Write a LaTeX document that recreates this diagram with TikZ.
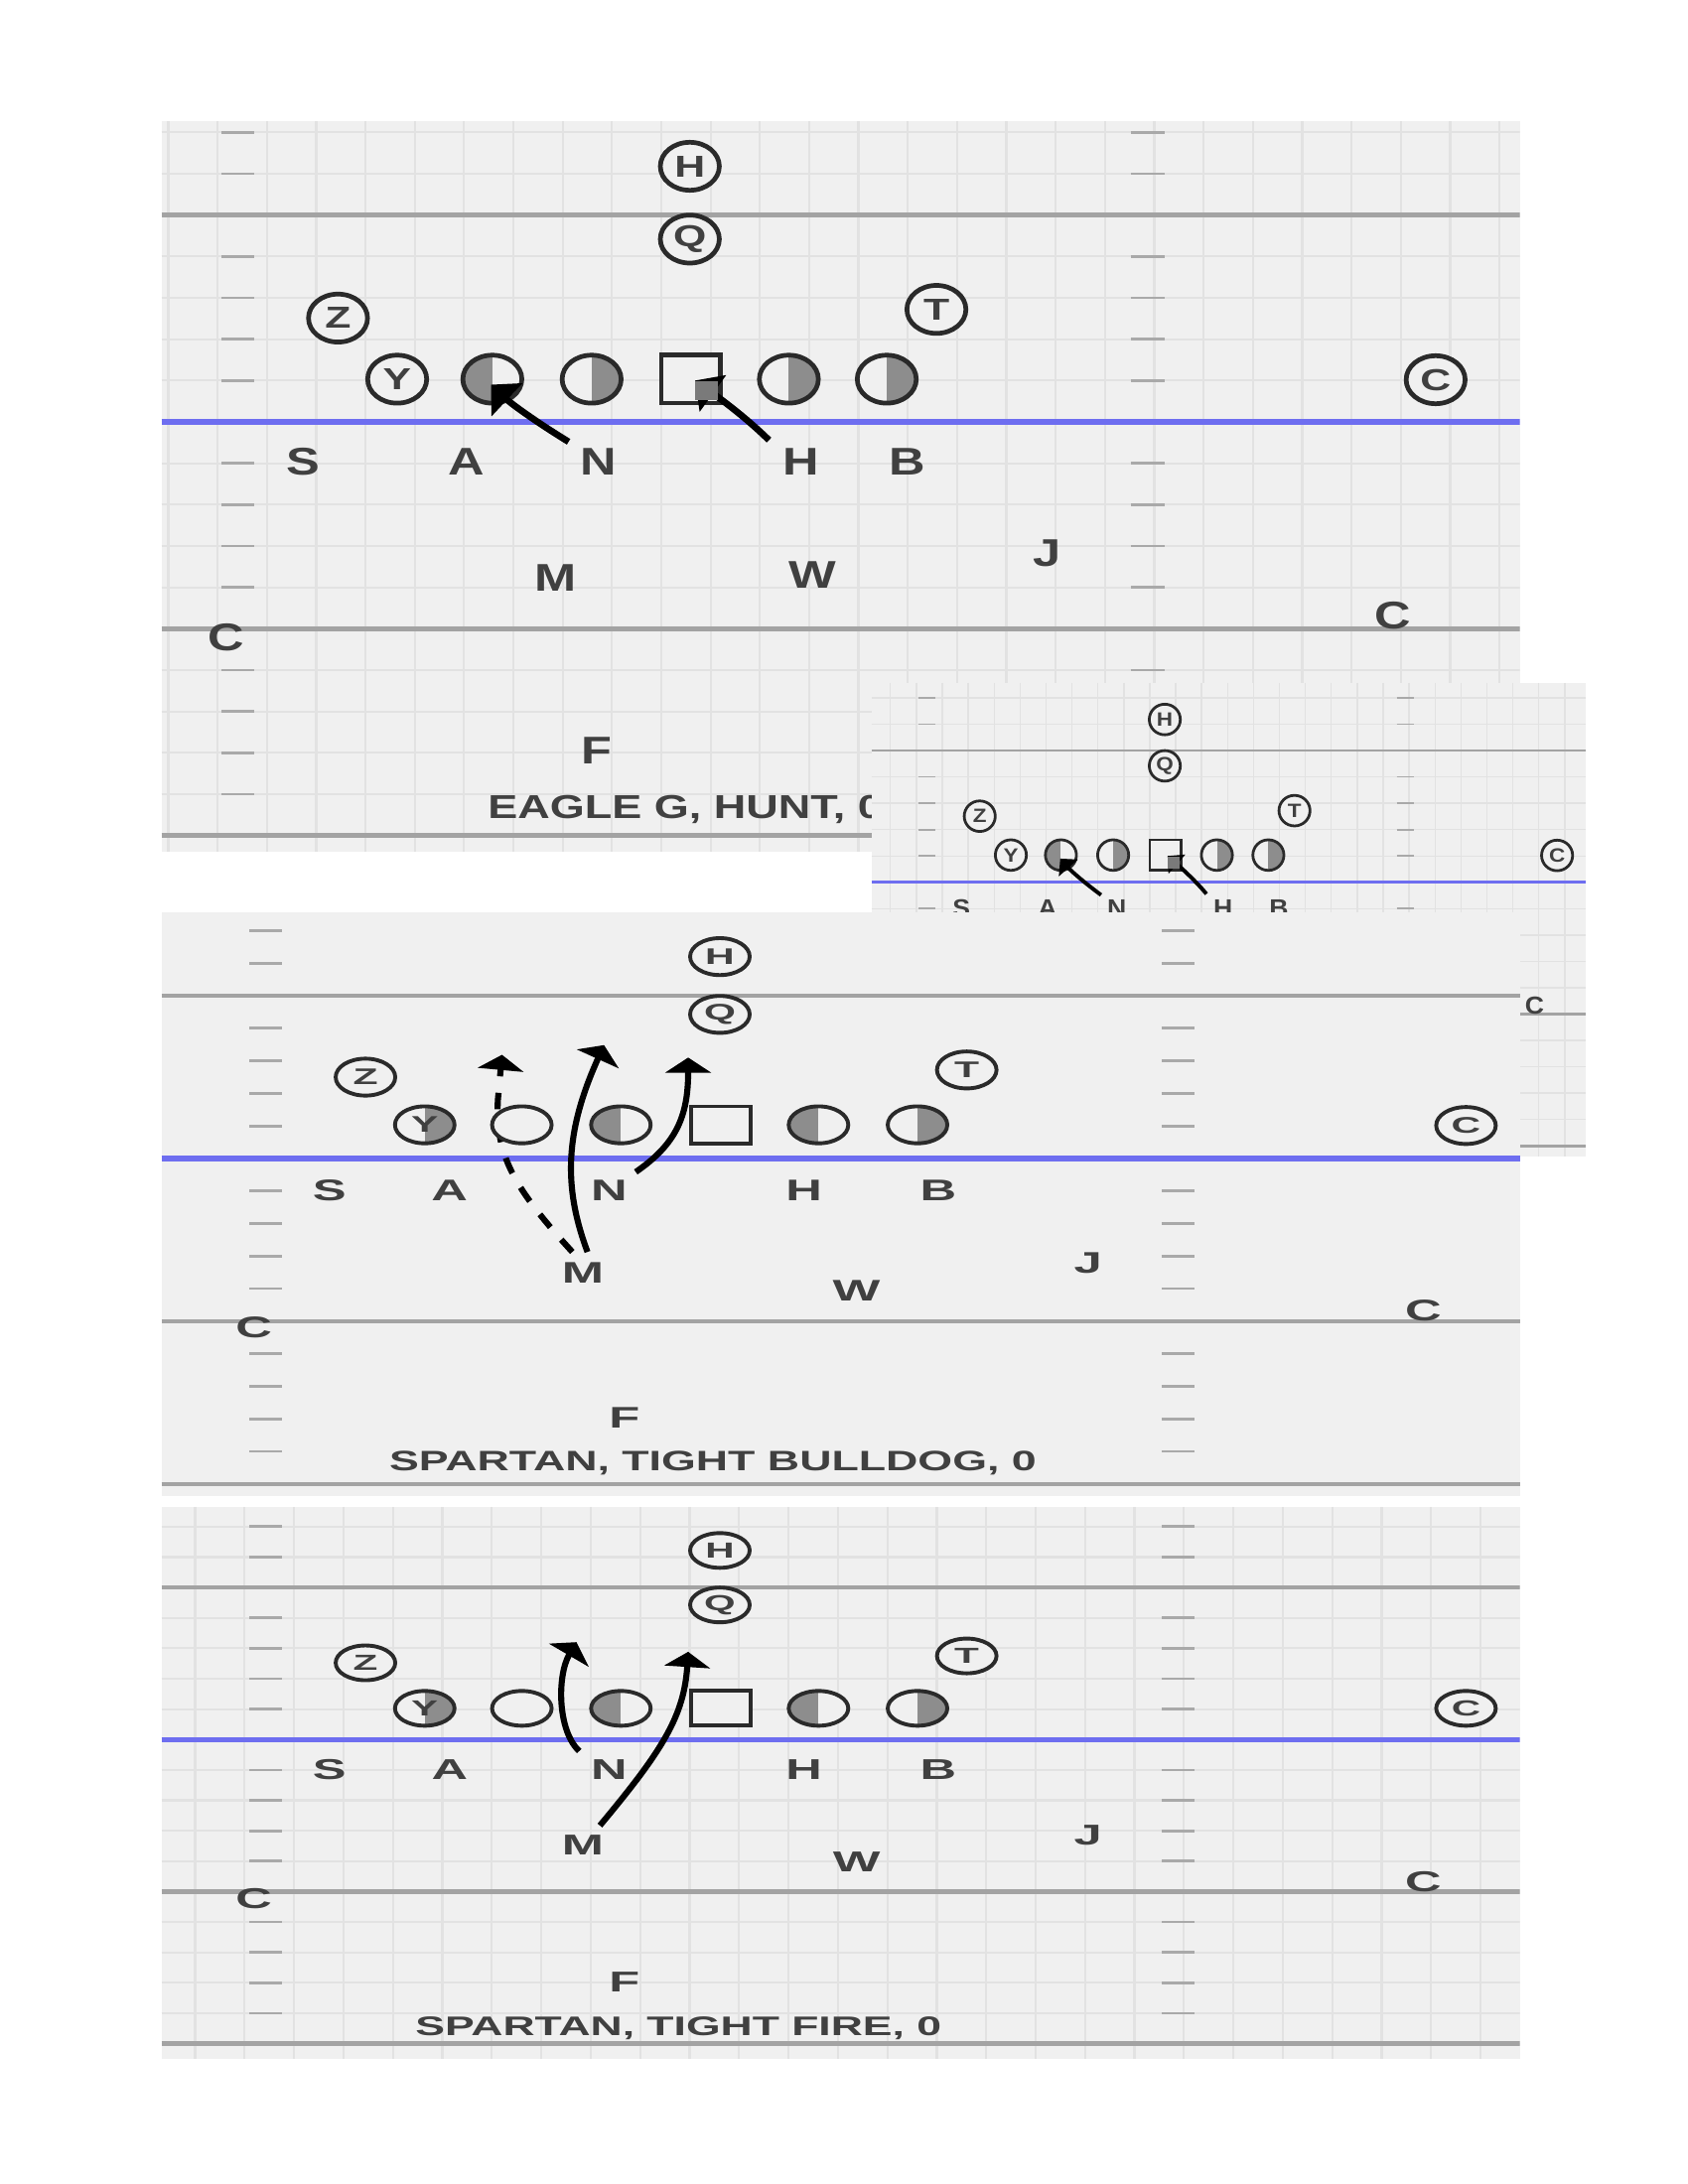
\documentclass[tikz,border=0pt]{standalone}
\usepackage{fontspec}
\setmainfont{Liberation Sans}
\usetikzlibrary{shapes.geometric,arrows.meta}
\definecolor{fieldbg}{HTML}{F0F0F0}
\definecolor{gridc}{HTML}{E2E2E2}
\definecolor{linegray}{HTML}{A3A3A3}
\definecolor{hashc}{HTML}{A9A9A9}
\definecolor{losblue}{HTML}{6E6EF0}
\definecolor{ink}{HTML}{2A2A2A}
\definecolor{halfc}{HTML}{8D8D8D}
\definecolor{txtc}{HTML}{404040}
\definecolor{gsqc}{HTML}{7A7A7A}
\newcommand\Aone[1]{\scalebox{1.4}[1]{#1}}
\newcommand\Bone[1]{\scalebox{1.3}[1]{#1}}
\newcommand\Atwo[1]{\scalebox{1.8}[1]{#1}}
\newcommand\Btwo[1]{\scalebox{1.69}[1]{#1}}
\newcommand\Athree[1]{\scalebox{1.85}[1]{#1}}
\newcommand\Bthree[1]{\scalebox{1.75}[1]{#1}}
\tikzset{
  gridln/.style={draw=gridc, line width=0.8pt},
  hashln/.style={draw=hashc, line width=1pt},
  fieldln/.style={draw=linegray, line width=1.6pt},
  losln/.style={draw=losblue, line width=1.9pt},
  pl/.style={ellipse, draw=ink, fill=fieldbg, inner sep=0pt, text=txtc},
  sq/.style={rectangle, draw=ink, fill=fieldbg, inner sep=0pt},
  lefthalf/.style={path picture={\fill[halfc] (path picture bounding box.south west) rectangle (path picture bounding box.north);}},
  righthalf/.style={path picture={\fill[halfc] (path picture bounding box.north) rectangle (path picture bounding box.south east);}},
  p1pl/.style={pl, minimum width=21.4pt, minimum height=17.4pt, line width=1.7pt, font=\fontsize{11}{11}\selectfont\bfseries},
  p1sq/.style={sq, minimum width=21.4pt, minimum height=17.4pt, line width=1.7pt},
  p1gsq/.style={rectangle, fill=gsqc, inner sep=0pt, minimum width=8.3pt, minimum height=7pt},
  p1let/.style={inner sep=0pt, text=txtc, font=\fontsize{14}{14}\selectfont\bfseries},
  p1cap/.style={inner sep=0pt, anchor=base west, text=txtc, font=\fontsize{12}{12}\selectfont\bfseries},
  p1arr/.style={draw=black, line width=2.4pt, -{Triangle[length=8pt,width=16pt]}},
  p2pl/.style={pl, minimum width=21.6pt, minimum height=13.4pt, line width=1.4pt, font=\fontsize{8.2}{8.2}\selectfont\bfseries},
  p2sq/.style={sq, minimum width=21.6pt, minimum height=13.4pt, line width=1.4pt},
  p2let/.style={inner sep=0pt, text=txtc, font=\fontsize{10.8}{10.8}\selectfont\bfseries},
  p3pl/.style={pl, minimum width=21.6pt, minimum height=12.6pt, line width=1.4pt, font=\fontsize{7.9}{7.9}\selectfont\bfseries},
  p3sq/.style={sq, minimum width=21.6pt, minimum height=12.6pt, line width=1.4pt},
  p3let/.style={inner sep=0pt, text=txtc, font=\fontsize{10.4}{10.4}\selectfont\bfseries},
  capn/.style={inner sep=0pt, anchor=base west, text=txtc, font=\bfseries},
  p2arr/.style={draw=black, line width=2.2pt, -{Triangle[length=5.5pt,width=16.5pt]}},
  p2dash/.style={p2arr, dash pattern=on 6pt off 6pt},
}
\newcommand\PanelOne[5]{% #1 prefix, #2 left, #3 top, #4 right, #5 bottom
  \fill[fieldbg] (#2,#3) rectangle (#4,#5);
  \begin{scope}
    \clip (#2,#3) rectangle (#4,#5);
    \foreach \k in {0,...,27}{\draw[gridln] ({122+35.75*\k},#3) -- ({122+35.75*\k},#5);}
    \foreach \k in {0,...,17}{%
      \draw[gridln] (#2,{96+30*\k}) -- (#4,{96+30*\k});
      \draw[hashln] (160.8,{96+30*\k}) -- (184.4,{96+30*\k});
      \draw[hashln] (819.8,{96+30*\k}) -- (844.3,{96+30*\k});}
    \draw[fieldln] (#2,156) -- (#4,156);
    \draw[fieldln] (#2,456) -- (#4,456);
    \draw[fieldln] (#2,606) -- (#4,606);
    \draw[losln] (#2,306) -- (#4,306);
    \node[p1pl] (#1oH) at (500.2,120.6) {\Aone{H}};
    \node[p1pl] (#1oQ) at (500.2,173.4) {\Aone{Q}};
    \node[p1pl] (#1oZ) at (245.1,230.7) {\Aone{Z}};
    \node[p1pl] (#1oT) at (679,224.4) {\Aone{T}};
    \node[p1pl] (#1oY) at (288,275) {\Aone{Y}};
    \node[p1pl,lefthalf] (#1oLa) at (357,275) {};
    \node[p1pl,righthalf] (#1oLb) at (429,275) {};
    \node[p1sq] (#1oSQ) at (501,275) {};
    \node[p1pl,righthalf] (#1oLc) at (572,275) {};
    \node[p1pl,righthalf] (#1oLd) at (643,275) {};
    \node[p1pl] (#1oC) at (1041,275.4) {\Aone{C}};
    \node[p1let] (#1dS) at (219.7,335.2) {\Bone{S}};
    \node[p1let] (#1dA) at (338.5,335.2) {\Bone{A}};
    \node[p1let] (#1dN) at (434,335.2) {\Bone{N}};
    \node[p1let] (#1dH) at (580.5,335.2) {\Bone{H}};
    \node[p1let] (#1dB) at (657.6,335.2) {\Bone{B}};
    \node[p1let] (#1dM) at (403.1,419.1) {\Bone{M}};
    \node[p1let] (#1dW) at (589.2,416.7) {\Bone{W}};
    \node[p1let] (#1dJ) at (759.2,401) {\Bone{J}};
    \node[p1let] (#1dCl) at (164,462.4) {\Bone{C}};
    \node[p1let] (#1dCr) at (1009.9,446.2) {\Bone{C}};
    \node[p1let] (#1dF) at (432.5,544.6) {\Bone{F}};
    \coordinate (#1aas) at (412.3,320.4);
    \coordinate (#1aae) at (356,279);
    \draw[p1arr] (#1aas) .. controls (392,308) and (372,294) .. (#1aae);
    \coordinate (#1abs) at (557.6,319.2);
    \coordinate (#1abe) at (504,276);
    \draw[p1arr] (#1abs) .. controls (540,302) and (522,289) .. (#1abe);
    \node[p1gsq] (#1oG) at (512.2,283.3) {};
    \node[p1cap] (#1cap) at (353.4,593.4) {\scalebox{1.35}[1]{EAGLE G, HUNT, 0}};
  \end{scope}}
\begin{document}
\begin{tikzpicture}[x=0.5pt,y=-0.5pt]
\useasboundingbox (0,0) rectangle (1224,1584);
\fill[white] (0,0) rectangle (1224,1584);
% ---------- panel 1 ----------
\PanelOne{a}{117}{88}{1102}{618}
% ---------- inset (reduced copy of panel 1) ----------
\begin{scope}[shift={(581.5,445)}, xscale=0.526, yscale=0.637, transform shape]
  \tikzset{gridln/.style={draw=gridc, line width=0.5pt},
    hashln/.style={draw=hashc, line width=0.6pt},
    fieldln/.style={draw=linegray, line width=1pt},
    losln/.style={draw=losblue, line width=1.2pt},
    p1pl/.append style={line width=1pt},
    p1sq/.append style={line width=1pt},
    p1arr/.style={draw=black, line width=1.4pt, -{Triangle[length=4.5pt,width=9pt]}}}
  \PanelOne{b}{96}{79}{1081}{618}
\end{scope}
% ---------- panel 2 ----------
\fill[fieldbg] (117,662) rectangle (1102,1085);
\foreach \k in {0,...,17}{%
  \draw[hashln] (180.8,{675+23.6*\k}) -- (204.5,{675+23.6*\k});
  \draw[hashln] (842.3,{675+23.6*\k}) -- (866.1,{675+23.6*\k});}
\draw[fieldln] (117,722.2) -- (1102,722.2);
\draw[fieldln] (117,958.2) -- (1102,958.2);
\draw[fieldln] (117,1076.4) -- (1102,1076.4);
\draw[losln] (117,840.2) -- (1102,840.2);
\coordinate (bas) at (415,908);
\coordinate (bae) at (364,765);
\draw[p2dash] (bas) .. controls (373,862) and (359,838) .. (361,798) -- (bae);
\node[p2pl] (boH) at (522,693.8) {\Atwo{H}};
\node[p2pl] (boQ) at (522,735.7) {\Atwo{Q}};
\node[p2pl] (boZ) at (265,781.2) {\Atwo{Z}};
\node[p2pl] (boT) at (701,776) {\Atwo{T}};
\node[p2pl,righthalf] (boY) at (308,815.8) {\Atwo{Y}};
\node[p2pl] (boLa) at (378.4,815.8) {};
\node[p2pl,lefthalf] (boLb) at (450.2,815.8) {};
\node[p2sq] (boSQ) at (522.4,815.8) {};
\node[p2pl,lefthalf] (boLc) at (593.5,815.8) {};
\node[p2pl,righthalf] (boLd) at (665.3,815.8) {};
\node[p2pl] (boC) at (1063,816.3) {\Atwo{C}};
\coordinate (bbs) at (426,908);
\coordinate (bbe) at (438,758);
\draw[p2arr] (bbs) .. controls (408,860) and (410,820) .. (bbe);
\coordinate (bcs) at (461,850);
\coordinate (bce) at (499,767);
\draw[p2arr] (bcs) .. controls (490,830) and (499,810) .. (bce);
\node[p2let] (bdS) at (238.8,863.2) {\Btwo{S}};
\node[p2let] (bdA) at (326,863.2) {\Btwo{A}};
\node[p2let] (bdN) at (441.6,863.2) {\Btwo{N}};
\node[p2let] (bdH) at (583,863.2) {\Btwo{H}};
\node[p2let] (bdB) at (680.3,863.2) {\Btwo{B}};
\node[p2let] (bdM) at (422.6,923.3) {\Btwo{M}};
\node[p2let] (bdW) at (621.1,935.8) {\Btwo{W}};
\node[p2let] (bdJ) at (788.9,916.1) {\Btwo{J}};
\node[p2let] (bdCl) at (184,962.8) {\Btwo{C}};
\node[p2let] (bdCr) at (1032,950.8) {\Btwo{C}};
\node[p2let] (bdF) at (452.8,1028.1) {\Btwo{F}};
\node[capn] (bcap) at (281.9,1066.9) {\resizebox{234.6pt}{7.1pt}{SPARTAN, TIGHT BULLDOG, 0}};
% ---------- panel 3 ----------
\fill[fieldbg] (117,1093) rectangle (1102,1493);
\begin{scope}
  \clip (117,1093) rectangle (1102,1493);
  \foreach \k in {0,...,26}{\draw[gridln] ({141.5+35.85*\k},1093) -- ({141.5+35.85*\k},1493);}
  \foreach \k in {0,...,17}{%
    \draw[gridln] (117,{1107.2+22.06*\k}) -- (1102,{1107.2+22.06*\k});
    \draw[hashln] (180.8,{1107.2+22.06*\k}) -- (204.5,{1107.2+22.06*\k});
    \draw[hashln] (842.3,{1107.2+22.06*\k}) -- (866.1,{1107.2+22.06*\k});}
  \draw[fieldln] (117,1151.3) -- (1102,1151.3);
  \draw[fieldln] (117,1371.9) -- (1102,1371.9);
  \draw[fieldln] (117,1482.2) -- (1102,1482.2);
  \draw[losln] (117,1261.6) -- (1102,1261.6);
\end{scope}
\node[p3pl] (coH) at (522,1124.5) {\Athree{H}};
\node[p3pl] (coQ) at (522,1164) {\Athree{Q}};
\node[p3pl] (coZ) at (265,1206) {\Athree{Z}};
\node[p3pl] (coT) at (701,1201) {\Athree{T}};
\node[p3pl,righthalf] (coY) at (308,1239) {\Athree{Y}};
\node[p3pl] (coLa) at (378.4,1239) {};
\node[p3pl,lefthalf] (coLb) at (450.2,1239) {};
\node[p3sq] (coSQ) at (522.4,1239) {};
\node[p3pl,lefthalf] (coLc) at (593.5,1239) {};
\node[p3pl,righthalf] (coLd) at (665.3,1239) {};
\node[p3pl] (coC) at (1063,1239) {\Athree{C}};
\coordinate (cas) at (420,1270);
\coordinate (cae) at (418,1191);
\draw[p2arr] (cas) .. controls (404,1255) and (404,1215) .. (cae);
\coordinate (cbs) at (435,1324);
\coordinate (cbe) at (499,1198);
\draw[p2arr] (cbs) .. controls (480,1270) and (496,1245) .. (cbe);
\node[p3let] (cdS) at (238.8,1283.5) {\Bthree{S}};
\node[p3let] (cdA) at (326,1283.5) {\Bthree{A}};
\node[p3let] (cdN) at (441.6,1283.5) {\Bthree{N}};
\node[p3let] (cdH) at (583,1283.5) {\Bthree{H}};
\node[p3let] (cdB) at (680.3,1283.5) {\Bthree{B}};
\node[p3let] (cdM) at (422.6,1338.4) {\Bthree{M}};
\node[p3let] (cdW) at (621.1,1350.5) {\Bthree{W}};
\node[p3let] (cdJ) at (788.9,1331.2) {\Bthree{J}};
\node[p3let] (cdCl) at (184,1377) {\Bthree{C}};
\node[p3let] (cdCr) at (1032,1365) {\Bthree{C}};
\node[p3let] (cdF) at (452.8,1437.4) {\Bthree{F}};
\node[capn] (ccap) at (300.8,1476.5) {\resizebox{190.7pt}{6.8pt}{SPARTAN, TIGHT FIRE, 0}};
\end{tikzpicture}
\end{document}
